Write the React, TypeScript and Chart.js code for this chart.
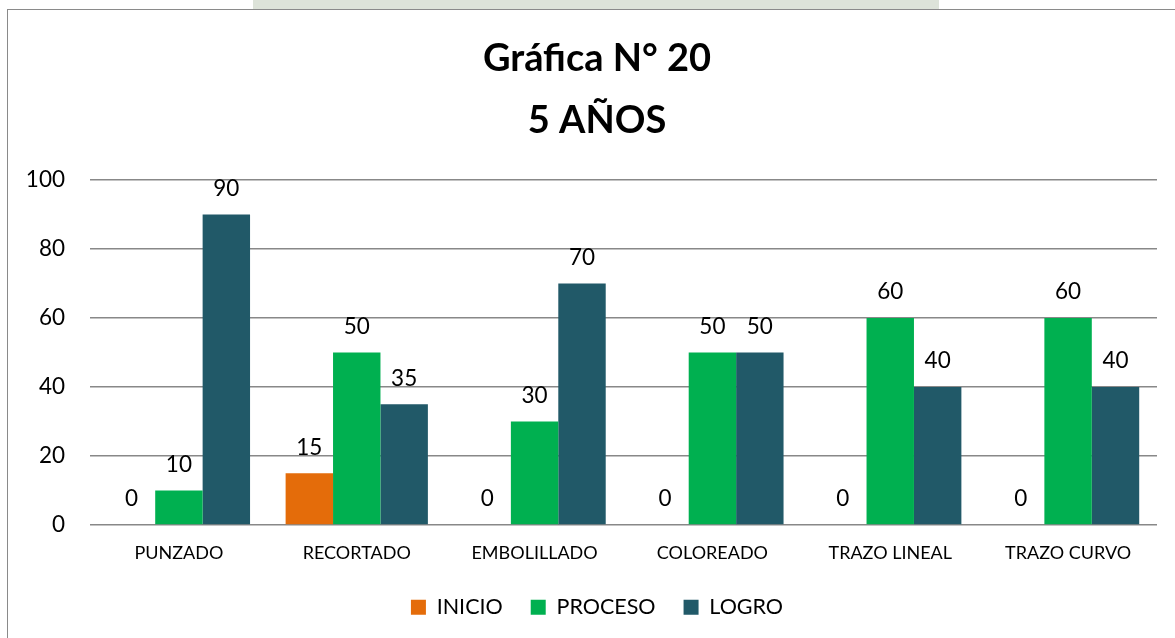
import React, { useEffect, useRef } from "react";
import { Chart, registerables } from "chart.js";

Chart.register(...registerables);

const categories = ["PUNZADO", "RECORTADO", "EMBOLILLADO", "COLOREADO", "TRAZO LINEAL", "TRAZO CURVO"];
const inicio = [0, 15, 0, 0, 0, 0];
const proceso = [10, 50, 30, 50, 60, 60];
const logro = [90, 35, 70, 50, 40, 40];
const seriesNames = ["INICIO", "PROCESO", "LOGRO"];
const seriesColors = ["#E46C0A", "#00B050", "#215968"];
const titleLines = ["Gráfica N° 20", "5 AÑOS"];
const yMin = 0;
const yMax = 100;
const yStep = 20;

const FONT = "Lato, 'Open Sans', sans-serif";

const dataLabels = {
  id: "dataLabels",
  afterDatasetsDraw(chart: any) {
    const ctx = chart.ctx;
    ctx.save();
    ctx.font = `22.5px ${FONT}`;
    ctx.fillStyle = "#000";
    ctx.textAlign = "center";
    ctx.textBaseline = "middle";
    chart.data.datasets.forEach((ds: any, i: number) => {
      const meta = chart.getDatasetMeta(i);
      meta.data.forEach((el: any, j: number) => {
        ctx.fillText(String(ds.data[j]), el.x, el.y - 26);
      });
    });
    ctx.restore();
  },
};

// y tick labels drawn unclipped (the axis box is narrower than its labels)
const yTickLabels = {
  id: "yTickLabels",
  afterDraw(chart: any) {
    const scale = chart.scales.y;
    const ctx = chart.ctx;
    ctx.save();
    ctx.font = `22.5px ${FONT}`;
    ctx.fillStyle = "#000";
    ctx.textAlign = "right";
    ctx.textBaseline = "middle";
    scale.ticks.forEach((t: any) => {
      ctx.fillText(String(t.value), scale.right - 25, scale.getPixelForValue(t.value));
    });
    ctx.restore();
  },
};

export default function App() {
  const ref = useRef<HTMLCanvasElement | null>(null);

  useEffect(() => {
    document.body.style.margin = "0";
    document.body.style.overflow = "hidden";
    const canvas = ref.current;
    if (!canvas) return;
    const chart = new Chart(canvas, {
      type: "bar",
      data: {
        labels: categories,
        datasets: [inicio, proceso, logro].map((d, i) => ({
          label: seriesNames[i],
          data: d,
          backgroundColor: seriesColors[i],
          borderWidth: 0,
          categoryPercentage: 0.8,
          barPercentage: 1,
        })),
      },
      options: {
        animation: false,
        responsive: false,
        maintainAspectRatio: false,
        layout: { padding: { left: 37, right: 18, top: 0, bottom: 0 } },
        plugins: {
          title: {
            display: true,
            text: titleLines,
            color: "#000",
            font: { family: FONT, size: 38, weight: "bold", lineHeight: 1.62 },
            padding: { top: 28, bottom: 29 },
          },
          legend: {
            position: "bottom",
            labels: {
              boxWidth: 15,
              boxHeight: 15,
              padding: 28,
              color: "#000",
              font: { family: FONT, size: 21.5 },
            },
          },
          tooltip: { enabled: false },
        },
        scales: {
          x: {
            grid: { display: false, drawTicks: false },
            border: { display: false },
            ticks: { color: "#000", font: { family: FONT, size: 18 }, padding: 17, maxRotation: 0 },
            afterFit: (s: any) => {
              s.height = 43.5;
            },
          },
          y: {
            min: yMin,
            max: yMax,
            grid: { color: "#888888", lineWidth: 1.5, drawTicks: false },
            border: { display: false },
            ticks: { stepSize: yStep, display: false },
            afterFit: (s: any) => {
              s.width = 53;
            },
          },
        },
      },
      plugins: [dataLabels, yTickLabels],
    });
    return () => chart.destroy();
  }, []);

  return (
    <div style={{ position: "relative", width: 1175, height: 638, overflow: "hidden", background: "#fff" }}>
      <div style={{ position: "absolute", left: 253, top: 0, width: 686, height: 9, background: "#dde3d9" }} />
      <div
        style={{
          position: "absolute",
          left: 7,
          top: 9,
          width: 1200,
          height: 700,
          borderLeft: "1.5px solid #8a8a8a",
          borderTop: "1.5px solid #8a8a8a",
        }}
      />
      <canvas ref={ref} width={1175} height={628} style={{ position: "absolute", left: 0, top: 0, display: "block" }} />
    </div>
  );
}
